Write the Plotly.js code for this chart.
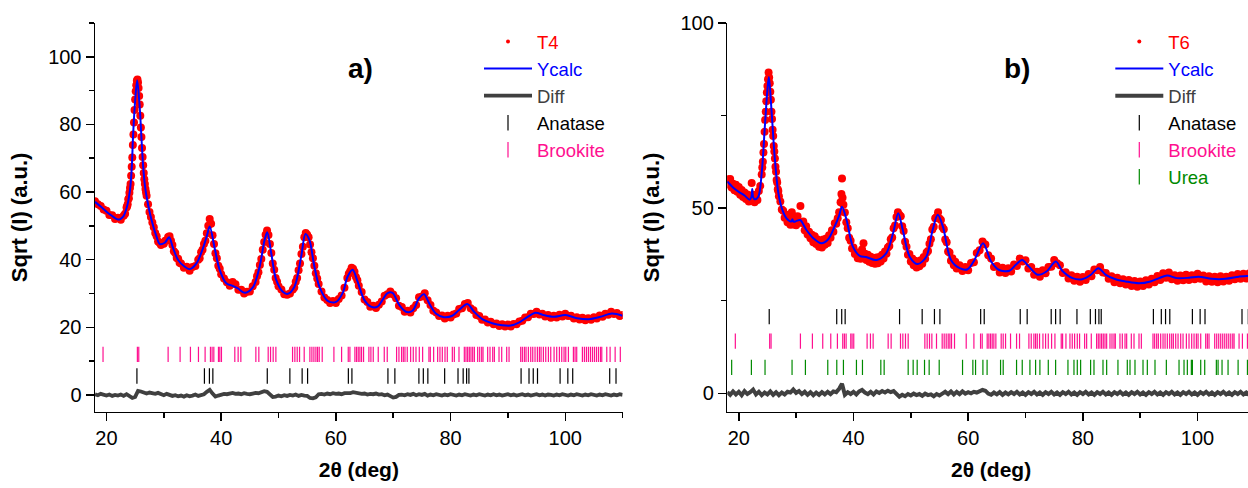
<!DOCTYPE html>
<html><head><meta charset="utf-8">
<script src="https://cdn.plot.ly/plotly-3.0.1.min.js"></script>
<style>html,body{margin:0;padding:0;overflow:hidden;background:#fff}#wrap{width:1248px;height:488px;overflow:hidden}#chart{width:1260px;height:488px}</style>
</head><body><div id="wrap"><div id="chart"></div></div>
<script>
// ---------- Panel a) sample T4 ----------
const obsA_x = [18,18.5,19,19.5,20,20.5,21,21.5,22,22.5,23,23.25,23.5,23.6,23.7,23.8,23.9,24,24.1,24.2,24.3,24.4,24.5,24.6,24.7,24.8,24.9,25,25.1,25.2,25.3,25.4,25.5,25.6,25.7,25.8,25.9,26,26.1,26.2,26.3,26.4,26.5,26.6,26.7,26.8,26.9,27,27.25,27.5,27.75,28,28.25,28.5,28.75,29,29.25,29.5,29.75,30,30.25,30.5,30.75,31,31.25,31.5,31.75,32,32.25,32.5,32.75,33,33.5,34,34.5,35,35.5,36,36.25,36.5,36.75,37,37.25,37.5,37.75,38,38.25,38.5,38.75,39,39.25,39.5,39.75,40,40.5,41,41.5,42,42.5,43,43.5,44,44.5,45,45.5,46,46.25,46.5,46.75,47,47.25,47.5,47.75,48,48.25,48.5,48.75,49,49.25,49.5,49.75,50,50.5,51,51.5,52,52.5,52.75,53,53.25,53.5,53.75,54,54.25,54.5,54.75,55,55.25,55.5,55.75,56,56.25,56.5,56.75,57,57.5,58,58.5,59,59.5,60,60.5,61,61.5,62,62.25,62.5,62.75,63,63.25,63.5,63.75,64,64.5,65,65.5,66,66.5,67,67.5,68,68.5,69,69.5,70,70.5,71,71.5,72,72.5,73,73.5,74,74.5,75,75.5,76,76.5,77,77.5,78,78.5,79,79.5,80,80.5,81,81.5,82,82.5,83,83.5,84,84.5,85,85.5,86,86.5,87,87.5,88,88.5,89,89.5,90,90.5,91,91.5,92,92.5,93,93.5,94,94.5,95,95.5,96,96.5,97,97.5,98,98.5,99,99.5,100,100.5,101,101.5,102,102.5,103,103.5,104,104.5,105,105.5,106,106.5,107,107.5,108,108.5,109,109.5,110];
const obsA_y = [57.3,56.4,55.9,54.8,54.5,53.2,53.1,52.0,52.4,51.8,53.0,53.6,55.4,55.8,56.4,57.9,58.2,59.8,61.2,62.4,64.8,67.5,70.2,73.9,77.0,80.6,84.3,87.4,89.8,91.6,92.9,93.3,92.4,90.8,88.4,85.9,82.6,79.1,76.3,73.0,70.4,67.9,65.6,63.8,62.4,60.9,59.9,58.9,56.4,54.1,52.6,51.0,49.6,47.9,46.9,45.4,45.0,44.3,44.8,44.7,45.6,45.7,46.7,46.9,45.6,44.3,42.5,42.0,40.5,40.3,39.1,38.9,37.6,37.9,36.7,37.8,38.1,40.0,40.4,42.2,42.9,44.6,45.6,47.8,50.0,52.0,50.6,47.2,44.6,41.9,40.4,38.2,37.3,35.7,34.4,33.3,32.3,33.4,32.7,31.1,31.1,30.0,30.5,30.6,32.1,33.4,35.1,36.3,38.4,40.2,42.9,45.2,47.4,48.6,47.3,44.6,42.0,38.9,37.0,34.6,33.5,32.1,31.2,29.8,29.6,30.0,31.2,31.8,33.5,34.6,36.9,38.9,41.7,43.8,46.6,47.9,47.4,46.6,44.5,42.2,40.4,38.2,36.0,34.4,32.8,30.6,28.8,28.1,27.2,27.8,27.2,28.4,29.4,31.7,34.6,35.8,36.6,37.6,37.3,36.4,34.9,33.9,32.3,30.4,28.2,27.5,26.1,26.4,25.7,26.7,27.6,29.3,29.8,30.6,29.7,28.6,26.4,26.0,24.6,24.9,24.4,25.6,26.6,28.9,29.1,30.1,28.0,26.6,24.9,24.4,23.3,23.5,22.6,23.4,22.9,23.8,24.1,25.4,25.6,26.9,27.2,25.6,25.0,23.6,23.3,22.2,22.3,21.4,21.6,20.9,21.1,20.4,20.9,20.2,20.8,20.2,21.0,20.9,21.7,21.9,22.9,23.0,24.0,23.9,24.6,23.8,24.0,23.2,23.6,22.8,23.4,22.9,23.7,23.2,24.0,23.3,23.4,22.6,23.0,22.3,22.8,22.1,22.7,22.2,23.0,22.6,23.5,23.1,24.0,23.7,24.6,23.9,24.2,23.3,23.6];
const calcA_x = [18,19,20,21,21.8,22.3,22.9,23.5,24.1,24.4,24.66,25.0,25.36,25.83,26.1,26.4,26.7,27.0,27.86,28.73,29.3,30.17,30.92,31.62,32.49,33.65,34.52,35.69,36.83,37.5,38.0,38.87,39.74,40.9,42.05,42.92,44.09,45.53,46.7,47.57,48.03,48.73,49.6,50.75,51.62,52.78,53.95,54.7,55.39,56.26,57.13,58.57,60.03,61.18,62.05,62.92,63.79,64.96,66.12,67.27,68.14,69.01,69.88,71.04,72.21,73.36,74.52,75.39,76.26,77.43,78.87,80.31,81.48,82.92,84.09,85.53,87.27,89.01,90.47,91.91,93.36,94.82,96.26,98.0,100.03,102.05,104.09,106.12,108.14,110];
const calcA_y = [57.1,55.7,54.2,52.9,52.0,51.9,52.7,55.2,60.6,67.0,77.4,87.0,93.1,84.2,76.0,67.5,62.0,58.6,51.7,46.8,44.6,45.0,46.6,43.4,39.9,37.9,37.2,38.9,43.4,47.0,49.8,43.4,37.0,33.0,32.2,31.5,30.2,31.8,37.9,45.8,48.1,41.9,34.0,30.5,29.9,32.0,40.9,47.6,45.8,37.9,32.0,27.8,27.5,30.1,35.0,37.0,33.5,28.1,26.1,26.1,28.1,30.1,30.2,26.6,24.6,24.9,28.6,29.8,27.1,24.1,23.0,23.4,25.1,26.9,24.6,22.4,21.2,20.6,20.5,21.4,23.0,24.3,23.6,23.1,23.6,22.7,22.4,23.1,24.1,23.4];
const diffA_start = 18, diffA_step = 0.5;
const diffA_y = [
 0.2,-0.1,0.3,0.0,-0.2,0.1,-0.3,0.0,-0.2,0.1,
 -0.3,0.2,-0.5,-0.9,-0.6,1.2,1.0,0.8,0.4,0.7,
 0.5,0.3,0.6,0.2,-0.1,0.3,0.0,-0.3,-0.1,-0.4,
 -0.2,-0.5,-0.1,-0.4,-0.2,0.1,-0.3,-0.1,0.2,0.9,
 1.5,0.4,-0.5,-0.2,0.1,0.3,0.2,0.5,0.6,0.3,
 0.4,0.2,0.5,0.3,0.2,0.4,0.6,0.5,0.8,1.1,
 0.9,0.2,-0.6,-0.5,-0.2,-0.4,-0.1,-0.3,0.0,-0.2,
 0.1,-0.3,0.0,-0.2,-0.3,-0.9,-1.0,-0.7,0.2,0.3,
 0.1,0.4,0.2,0.5,0.3,0.4,0.2,0.5,0.4,0.5,
 0.8,0.6,0.5,0.3,0.4,0.1,0.3,0.2,0.4,0.1,
 0.2,-0.1,0.1,-0.4,-0.8,-0.6,0.0,0.1,-0.1,0.2,
 0.0,0.3,-0.1,0.2,0.0,0.3,-0.2,0.1,-0.1,0.2,
 0.0,-0.2,0.1,-0.1,0.2,0.0,-0.2,0.1,-0.1,0.2,
 0.0,-0.2,0.1,-0.1,0.2,0.0,-0.2,0.1,-0.1,0.2,
 -0.1,0.1,-0.2,0.0,0.2,-0.1,0.1,-0.2,0.0,0.2,
 -0.1,0.1,-0.2,0.0,0.2,-0.1,0.1,-0.2,0.1,0.0,
 -0.2,0.1,-0.1,0.2,0.0,-0.2,0.1,-0.1,0.2,0.0,
 -0.2,0.1,-0.1,0.2,0.0,-0.2,0.1,-0.1,0.2,0.0,
 -0.2,0.1,-0.1,0.2,0.0];

// ---------- Panel b) sample T6 ----------
const obsB_x = [18,18.25,18.5,18.75,19,19.25,19.5,19.75,20,20.25,20.5,20.75,21,21.25,21.5,21.75,22,22.25,22.5,22.75,23,23.25,23.5,23.75,24,24.1,24.2,24.3,24.4,24.5,24.6,24.7,24.8,24.9,25,25.1,25.2,25.3,25.4,25.5,25.6,25.7,25.8,25.9,26,26.1,26.2,26.3,26.4,26.5,26.6,26.7,26.8,26.9,27,27.25,27.5,27.75,28,28.25,28.5,28.75,29,29.25,29.5,29.75,30,30.25,30.5,30.75,31,31.25,31.5,31.75,32,32.25,32.5,32.75,33,33.25,33.5,33.75,34,34.25,34.5,34.75,35,35.25,35.5,35.75,36,36.25,36.5,36.75,37,37.25,37.5,37.75,37.9,38,38.1,38.25,38.5,38.75,39,39.25,39.5,39.75,40,40.25,40.5,40.75,41,41.25,41.5,41.75,42,42.25,42.5,42.75,43,43.25,43.5,43.75,44,44.25,44.5,44.75,45,45.25,45.5,45.75,46,46.25,46.5,46.75,47,47.25,47.5,47.75,48,48.25,48.5,48.75,49,49.25,49.5,49.75,50,50.25,50.5,50.75,51,51.25,51.5,51.75,52,52.25,52.5,52.75,53,53.25,53.5,53.75,54,54.25,54.5,54.75,55,55.25,55.5,55.75,56,56.25,56.5,56.75,57,57.25,57.5,57.75,58,58.5,59,59.5,60,60.5,61,61.5,62,62.5,62.75,63,63.5,64,64.5,65,65.5,66,66.5,67,67.5,68,68.5,69,69.5,70,70.5,71,71.5,72,72.5,73,73.5,74,74.5,75,75.5,76,76.5,77,77.5,78,78.5,79,79.5,80,80.5,81,81.5,82,82.5,83,83.5,84,84.5,85,85.5,86,86.5,87,87.5,88,88.5,89,89.5,90,90.5,91,91.5,92,92.5,93,93.5,94,94.5,95,95.5,96,96.5,97,97.5,98,98.5,99,99.5,100,100.5,101,101.5,102,102.5,103,103.5,104,104.5,105,105.5,106,106.5,107,107.5,108,108.5,109,109.5,110];
const obsB_y = [57.8,56.4,57.9,55.6,56.6,54.8,56.3,54.4,55.7,53.6,54.9,53.0,54.2,52.5,53.7,51.8,52.9,56.8,53.6,51.6,53.4,52.2,54.6,56.0,59.1,61.0,62.5,65.0,67.3,70.6,73.8,76.0,78.9,81.2,83.0,84.8,86.6,85.3,83.7,81.4,79.3,76.0,74.1,71.2,69.5,66.8,65.3,63.4,61.2,59.8,57.6,56.9,55.1,54.6,53.2,51.8,49.6,49.3,47.4,48.2,46.2,47.4,45.5,48.9,45.6,47.3,45.4,47.8,46.2,50.6,46.0,46.4,44.0,45.1,42.9,43.6,41.9,42.8,40.8,42.4,40.3,41.5,39.6,41.2,39.4,41.5,40.1,41.8,40.6,42.7,42.0,44.0,43.6,45.9,45.8,47.3,48.9,51.6,53.8,58.0,52.8,50.9,48.8,46.2,44.6,42.0,41.2,39.1,39.4,37.6,38.1,36.5,37.6,36.3,38.8,40.5,37.7,36.0,37.4,35.5,36.9,35.2,36.5,35.0,36.7,35.1,36.8,35.6,37.4,36.4,38.3,37.7,39.4,39.8,41.6,42.1,44.6,45.3,47.6,48.9,48.2,47.8,45.1,43.8,40.9,39.6,37.4,37.6,35.6,36.4,34.6,35.8,34.0,35.5,34.3,35.9,35.0,36.8,36.3,38.0,38.4,40.4,41.6,44.2,45.0,47.3,47.6,48.9,47.2,46.8,44.9,44.3,41.5,40.8,38.3,38.0,35.8,36.5,34.6,35.5,33.7,34.6,33.0,34.1,33.2,35.2,35.4,37.9,38.6,41.0,40.3,40.2,37.3,36.4,34.1,34.4,32.6,33.9,32.5,33.8,32.9,34.8,34.4,36.4,35.6,35.9,33.7,34.1,32.0,32.8,31.5,33.2,32.4,34.1,34.2,36.0,35.1,34.6,32.5,32.7,31.0,31.9,30.4,31.5,30.1,31.4,30.6,32.2,31.6,33.4,33.2,34.1,32.6,32.5,30.9,31.6,30.0,31.2,29.7,30.8,29.4,30.6,29.0,30.3,28.8,30.2,29.0,30.5,29.4,30.9,30.0,31.7,30.6,32.4,31.2,32.6,30.8,31.9,30.4,31.8,30.5,32.0,30.6,31.9,30.8,32.3,30.9,31.8,30.2,31.6,30.1,31.5,30.0,31.6,30.2,31.5,30.4,31.9,30.8,32.2,30.9,32.3,31.0,32.4,30.9,31.8];
const calcB_x = [18,19,20,21,21.9,22.2,22.35,22.5,22.8,23.4,24.0,24.55,25.0,25.25,25.7,26.3,26.9,27.5,28.3,29.15,29.35,29.55,30.0,30.7,31.8,33.0,34.4,35.6,36.7,37.5,38.0,38.8,39.9,41.1,42.2,44.0,45.7,46.9,47.8,48.6,49.8,51.2,52.7,53.8,54.7,55.6,57.0,58.5,59.9,61.1,62.6,64.0,65.4,67.2,68.3,69.4,70.6,72.1,73.65,75.3,76.4,78.2,79.9,81.4,82.7,84.0,85.7,87.5,89.8,91.8,93.3,94.7,96.4,98.5,100.2,102.5,104.9,107.2,108.6,110];
const calcB_y = [57.2,55.6,54.4,53.4,52.3,53.0,55.2,53.0,52.4,53.1,59.5,72.1,82.0,85.4,76.6,63.1,54.1,50.0,47.3,46.4,47.0,46.3,46.5,46.8,44.1,41.9,40.5,41.6,45.0,48.0,50.4,46.8,39.6,37.1,36.8,36.0,37.8,43.2,48.6,44.1,36.9,34.9,36.9,44.1,48.2,45.0,36.0,33.8,33.5,36.0,40.5,35.6,33.3,33.1,34.7,36.0,34.2,32.0,32.9,35.6,33.1,31.1,30.8,32.0,33.8,32.0,30.8,30.2,29.7,30.2,31.1,31.8,31.1,31.2,31.5,30.9,30.9,31.5,31.7,31.5];
const diffB_start = 18, diffB_step = 0.5;
const diffB_y = [
 0.3,-0.4,0.5,-0.3,0.4,-0.5,0.6,-0.2,0.3,1.0,
 -0.3,0.4,-0.5,0.2,-0.3,0.5,-0.4,0.3,-0.5,0.2,
 -0.3,0.4,0.2,1.0,0.1,0.6,-0.2,0.4,-0.4,0.3,
 -0.5,0.2,-0.4,0.3,-0.3,0.4,-0.2,0.5,0.3,1.2,
 2.6,-0.4,0.3,-0.2,0.4,-0.3,0.5,0.9,0.2,-0.2,
 0.4,-0.3,0.5,0.1,0.6,0.2,0.7,0.3,0.6,-0.3,
 -0.9,-0.4,-0.8,-0.2,-0.6,-0.1,-0.5,-0.2,-0.7,-0.1,
 -0.5,-0.3,-0.8,-0.2,-0.6,-0.1,0.4,-0.2,0.5,-0.3,
 0.4,-0.2,0.5,-0.1,0.3,0.0,0.4,0.2,0.6,0.9,
 0.7,-0.1,-0.4,0.2,-0.3,0.3,-0.4,0.2,-0.3,0.3,
 -0.2,0.4,-0.3,0.2,-0.4,0.3,-0.2,0.4,-0.3,0.2,
 -0.4,0.3,-0.2,0.4,-0.3,0.2,-0.4,0.3,-0.2,0.4,
 -0.3,0.2,-0.4,0.3,-0.2,0.4,-0.3,0.2,-0.4,0.3,
 -0.2,0.4,-0.3,0.2,-0.4,0.3,-0.2,0.4,-0.3,0.2,
 -0.4,0.3,-0.2,0.4,-0.3,0.2,-0.4,0.3,-0.2,0.4,
 -0.3,0.2,-0.4,0.3,-0.2,0.4,-0.3,0.2,-0.4,0.3,
 -0.2,0.4,-0.3,0.2,-0.4,0.3,-0.2,0.4,-0.3,0.2,
 -0.4,0.3,-0.2,0.4,-0.3,0.2,-0.4,0.3,-0.2,0.4,
 -0.3,0.2,-0.4,0.3,-0.2];

// ---------- Reflection positions (2θ, deg) ----------
const anataseRefl = [25.31,37.08,37.95,38.55,48.04,51.98,54.12,55.07,62.18,62.8,69.08,70.29,74.48,75.25,76.04,78.97,81.3,82.2,82.8,83.2,92.3,93.68,94.42,95.16,99.1,100.45,101.3,107.75,108.85];
const brookiteRefl = [19.4,25.39,25.63,30.75,32.84,34.64,36.04,37.2,38.13,38.42,38.72,39.53,39.76,40.05,42.38,42.96,43.43,46.05,46.57,48.2,48.61,49.07,49.54,52.45,52.85,53.26,53.67,54.48,55.47,55.82,56.17,56.52,56.81,57.1,57.62,59.66,61.0,62.16,62.45,63.32,63.61,63.9,64.19,64.48,64.83,65.76,66.11,66.52,67.39,68.44,68.96,70.59,71.0,71.46,71.76,72.05,72.45,73.04,73.5,73.97,74.55,75.13,76.23,76.47,77.05,77.75,78.15,78.56,79.03,79.43,80.31,80.66,81.47,82.4,82.69,82.98,83.27,83.56,83.86,84.15,84.73,85.08,85.43,85.66,86.47,86.88,87.35,87.64,88.45,88.92,89.79,90.2,92.23,92.52,92.87,93.16,93.57,93.98,94.33,94.73,95.14,95.49,95.78,96.19,96.6,97.06,97.47,98.05,98.51,98.98,99.39,99.79,100.09,100.55,101.42,101.71,102.0,102.99,103.34,103.69,104.04,104.39,104.74,105.09,105.44,105.79,106.14,106.37,107.24,107.82,108.7,109.6];
const ureaRefl = [18.76,22.2,24.58,29.29,31.62,35.52,37.09,38.25,40.52,41.57,44.77,45.35,49.54,50.41,51.11,52.39,53.2,54.95,59.02,60.82,61.29,62.57,63.3,65.65,66.11,68.44,69.43,70.77,71.76,72.51,73.97,75.25,77.4,78.45,79.03,79.61,81.35,81.94,83.51,84.15,86.12,87.75,88.22,89.09,90.49,91.24,92.58,94.56,96.77,97.64,98.22,98.92,99.1,100.55,101.25,103.28,103.58,104.27,105.32,107.07,108.7];

const labelsA = {obs:'T4', calc:'Ycalc', diff:'Diff', anatase:'Anatase', brookite:'Brookite'};
const labelsB = {obs:'T6', calc:'Ycalc', diff:'Diff', anatase:'Anatase', brookite:'Brookite', urea:'Urea'};

// ---------- styles ----------
const FONT = "Arial, 'Liberation Sans', Helvetica, sans-serif";
const C = {obs:'#ff0000', calc:'#0000ff', diff:'#404040', anatase:'#000000', brookite:'#ff1090', urea:'#008a00'};
const rowA = {anatase:5.6, brookite:12.0};
const rowB = {anatase:20.7, brookite:14.1, urea:7.0};

function colored(txt, col){ return '<span style="color:'+col+'">'+txt+'</span>'; }
function gridX(start, step, arr){ return arr.map((_, i) => +(start + i*step).toFixed(2)); }
function tickTrace(pos, level, col, name, xa, ya, lg){
  return {x: pos, y: pos.map(() => level), type:'scatter', mode:'markers', xaxis:xa, yaxis:ya, legend:lg,
    name: colored(name, col), cliponaxis:true,
    marker:{symbol:'line-ns-open', size:11, color:col, line:{color:col, width:1.2}}};
}
// observed points (drawn large) + a legend key with the small dot style of the original
function obsTraces(x, y, name, xa, ya, lg){
  return [
    {x:x, y:y, type:'scatter', mode:'markers', xaxis:xa, yaxis:ya, legend:lg, showlegend:false,
     name:name, marker:{color:C.obs, size:8}},
    {x:[null], y:[null], type:'scatter', mode:'markers', xaxis:xa, yaxis:ya, legend:lg,
     name: colored(name, C.obs), marker:{color:C.obs, size:4}}
  ];
}

const traces = [
  ...obsTraces(obsA_x, obsA_y, labelsA.obs, 'x', 'y', 'legend'),
  {x: calcA_x, y: calcA_y, type:'scatter', mode:'lines', xaxis:'x', yaxis:'y', legend:'legend',
   name: colored(labelsA.calc, C.calc), line:{color:C.calc, width:2, shape:'spline', smoothing:0.9}},
  {x: gridX(diffA_start, diffA_step, diffA_y), y: diffA_y, type:'scatter', mode:'lines', xaxis:'x', yaxis:'y', legend:'legend',
   name: colored(labelsA.diff, C.diff), line:{color:C.diff, width:3.8}},
  tickTrace(anataseRefl, rowA.anatase, C.anatase, labelsA.anatase, 'x', 'y', 'legend'),
  tickTrace(brookiteRefl, rowA.brookite, C.brookite, labelsA.brookite, 'x', 'y', 'legend'),

  ...obsTraces(obsB_x, obsB_y, labelsB.obs, 'x2', 'y2', 'legend2'),
  {x: calcB_x, y: calcB_y, type:'scatter', mode:'lines', xaxis:'x2', yaxis:'y2', legend:'legend2',
   name: colored(labelsB.calc, C.calc), line:{color:C.calc, width:2, shape:'spline', smoothing:0.9}},
  {x: gridX(diffB_start, diffB_step, diffB_y), y: diffB_y, type:'scatter', mode:'lines', xaxis:'x2', yaxis:'y2', legend:'legend2',
   name: colored(labelsB.diff, C.diff), line:{color:C.diff, width:4}},
  tickTrace(anataseRefl, rowB.anatase, C.anatase, labelsB.anatase, 'x2', 'y2', 'legend2'),
  tickTrace(brookiteRefl, rowB.brookite, C.brookite, labelsB.brookite, 'x2', 'y2', 'legend2'),
  tickTrace(ureaRefl, rowB.urea, C.urea, labelsB.urea, 'x2', 'y2', 'legend2')
];

const W = 1260, H = 488;
const domAx = [95/W, 622.6/W], domBx = [727.3/W, 1254.9/W];
const domY = [(H-411.8)/H, (H-23)/H];
const tickfont = {family:FONT, size:20, color:'#000'};
const base = {showgrid:false, zeroline:false, showline:true, linecolor:'#000', linewidth:1.5, tickcolor:'#000', tickwidth:1.5, tickfont:tickfont};
function bottomX(dom, anchor){
  return Object.assign({}, base, {domain:dom, anchor:anchor, range:[18,110], tickmode:'linear', tick0:0, dtick:20,
    ticks:'outside', ticklen:8, minor:{tick0:0, dtick:10, ticks:'outside', ticklen:5, tickwidth:1.5, tickcolor:'#000'},
    title:{text:'<b>2θ (deg)</b>', font:{family:FONT, size:21, color:'#000'}, standoff:14}});
}
function topX(over, anchor){
  return Object.assign({}, base, {overlaying:over, anchor:anchor, side:'top', range:[18,110], tickmode:'linear', tick0:0, dtick:20,
    ticks:'inside', ticklen:7, showticklabels:false, minor:{tick0:0, dtick:10, ticks:'inside', ticklen:4, tickwidth:1.5, tickcolor:'#000'}});
}
function leftY(dom, anchor, rng, dt){
  return Object.assign({}, base, {domain:dom, anchor:anchor, range:rng, tickmode:'linear', tick0:0, dtick:dt,
    ticks:'outside', ticklen:8, minor:{tick0:0, dtick:dt/2, ticks:'outside', ticklen:5, tickwidth:1.5, tickcolor:'#000'},
    title:{text:'<b>Sqrt (I) (a.u.)</b>', font:{family:FONT, size:22, color:'#000'}, standoff:14}});
}
function rightY(over, anchor, rng, dt){
  return Object.assign({}, base, {overlaying:over, anchor:anchor, side:'right', range:rng, tickmode:'linear', tick0:0, dtick:dt,
    ticks:'inside', ticklen:7, showticklabels:false, minor:{tick0:0, dtick:dt/2, ticks:'inside', ticklen:4, tickwidth:1.5, tickcolor:'#000'}});
}

const legendBase = {xanchor:'left', yanchor:'top', bgcolor:'rgba(0,0,0,0)', borderwidth:0,
  font:{family:FONT, size:18.5, color:'#000'}, itemsizing:'trace', tracegroupgap:0, itemwidth:48};

const layout = {
  width:W, height:H, margin:{l:0, r:0, t:0, b:0}, paper_bgcolor:'#fff', plot_bgcolor:'rgba(0,0,0,0)',
  font:{family:FONT, color:'#000'}, showlegend:true, hovermode:false,
  xaxis: bottomX(domAx, 'y'),
  yaxis: leftY(domY, 'x', [-5,110], 20),
  xaxis2: bottomX(domBx, 'y2'),
  yaxis2: leftY(domY, 'x2', [-5,100], 50),
  xaxis3: topX('x', 'y'),
  yaxis3: rightY('y', 'x', [-5,110], 20),
  xaxis4: topX('x2', 'y2'),
  yaxis4: rightY('y2', 'x2', [-5,100], 50),
  legend: Object.assign({}, legendBase, {x:479/W, y:(H-23)/H}),
  legend2: Object.assign({}, legendBase, {x:1110.3/W, y:(H-23)/H}),
  annotations:[
    {text:'<b>a)</b>', xref:'paper', yref:'paper', x:360/W, y:(H-68)/H, showarrow:false, xanchor:'center', yanchor:'middle', font:{family:FONT, size:28, color:'#000'}},
    {text:'<b>b)</b>', xref:'paper', yref:'paper', x:1017/W, y:(H-68)/H, showarrow:false, xanchor:'center', yanchor:'middle', font:{family:FONT, size:28, color:'#000'}}
  ]
};

Plotly.newPlot('chart', traces, layout, {staticPlot:true, displayModeBar:false});
</script></body></html>
